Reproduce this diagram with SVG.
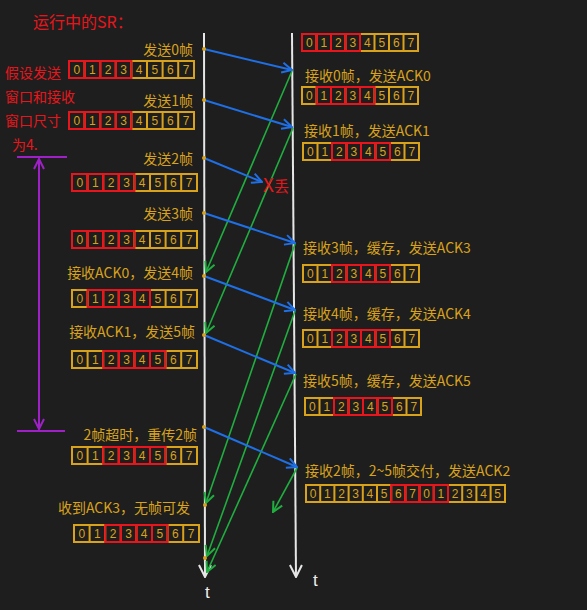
<svg xmlns="http://www.w3.org/2000/svg" xmlns:xlink="http://www.w3.org/1999/xlink" width="587" height="610" viewBox="0 0 587 610">
<style>
.o{fill:none;stroke:#d9a21b;stroke-width:2}
.r{fill:none;stroke:#e8161c;stroke-width:2}
.d{font-family:"Liberation Sans",sans-serif;font-size:12px;fill:#d9a21b;text-anchor:middle}
.l{font-family:"Noto Sans CJK SC",sans-serif;font-size:14px;fill:#d9a21b}
.le{font-family:"Noto Sans CJK SC",sans-serif;font-size:14px;fill:#d9a21b;text-anchor:end}
.rt{font-family:"Noto Sans CJK SC",sans-serif;fill:#e8161c}
.tl{fill:none;stroke:#e6e6e6;stroke-width:2}
.bl{fill:none;stroke:#1f6fe5;stroke-width:2}
.gl{fill:none;stroke:#1fae3f;stroke-width:1.6}
.pl{fill:none;stroke:#a020c8;stroke-width:2}
.dot{fill:#d9a21b}
.tt{font-family:"Liberation Sans",sans-serif;font-size:17px;fill:#eeeeee}
</style>
<defs>
<marker id="ab" viewBox="0 0 12 12" refX="11" refY="6" markerWidth="12" markerHeight="12" markerUnits="userSpaceOnUse" orient="auto"><path d="M1,1 L11,6 L1,11" fill="none" stroke="#1f6fe5" stroke-width="2"/></marker>
<marker id="ag" viewBox="0 0 12 12" refX="11" refY="6" markerWidth="12" markerHeight="12" markerUnits="userSpaceOnUse" orient="auto"><path d="M1,1 L11,6 L1,11" fill="none" stroke="#1fae3f" stroke-width="2"/></marker>
<marker id="aw" viewBox="0 0 14 14" refX="13" refY="7" markerWidth="14" markerHeight="14" markerUnits="userSpaceOnUse" orient="auto"><path d="M1,1 L13,7 L1,13" fill="none" stroke="#e6e6e6" stroke-width="2"/></marker>
<marker id="ap" viewBox="0 0 12 12" refX="11" refY="6" markerWidth="12" markerHeight="12" markerUnits="userSpaceOnUse" orient="auto"><path d="M1,1 L11,6 L1,11" fill="none" stroke="#a020c8" stroke-width="2"/></marker>
<g id="ws">
<rect class="o" x="0" y="0" width="125" height="17"/>
<path class="o" d="M15.6,0V17M31.2,0V17M46.8,0V17M62.4,0V17M78,0V17M93.6,0V17M109.2,0V17"/>
<text class="d" y="13"><tspan x="7.8">0</tspan><tspan x="23.4">1</tspan><tspan x="39">2</tspan><tspan x="54.6">3</tspan><tspan x="70.2">4</tspan><tspan x="85.8">5</tspan><tspan x="101.4">6</tspan><tspan x="117">7</tspan></text>
</g>
<g id="wr">
<rect class="o" x="0" y="0" width="116" height="17"/>
<path class="o" d="M14.5,0V17M29,0V17M43.5,0V17M58,0V17M72.5,0V17M87,0V17M101.5,0V17"/>
<text class="d" y="13"><tspan x="7.25">0</tspan><tspan x="21.75">1</tspan><tspan x="36.25">2</tspan><tspan x="50.75">3</tspan><tspan x="65.25">4</tspan><tspan x="79.75">5</tspan><tspan x="94.25">6</tspan><tspan x="108.75">7</tspan></text>
</g>
<g id="rs"><rect class="r" x="0" y="0" width="15.6" height="17"/><rect class="r" x="15.6" y="0" width="15.6" height="17"/><rect class="r" x="31.2" y="0" width="15.6" height="17"/><rect class="r" x="46.8" y="0" width="15.6" height="17"/></g>
<g id="rr"><rect class="r" x="0" y="0" width="14.5" height="17"/><rect class="r" x="14.5" y="0" width="14.5" height="17"/><rect class="r" x="29" y="0" width="14.5" height="17"/><rect class="r" x="43.5" y="0" width="14.5" height="17"/></g>
</defs>
<rect x="0" y="0" width="587" height="610" fill="#1e1e1e"/>

<g id="title"><text class="rt" x="33" y="28" font-size="16">运行中的SR：</text></g>
<g id="note">
<text class="rt" font-size="14"><tspan x="5" y="78">假设发送</tspan><tspan x="5" y="102">窗口和接收</tspan><tspan x="5" y="126">窗口尺寸</tspan><tspan x="12" y="150">为4.</tspan></text>
</g>
<g id="window-span">
<path class="pl" d="M17,157H67M17,431H65"/>
<path class="pl" d="M39,295V159" marker-end="url(#ap)"/>
<path class="pl" d="M39,295V429" marker-end="url(#ap)"/>
</g>

<g id="connectors">
<path class="tl" d="M204,33L205,577" marker-end="url(#aw)"/>
<path class="tl" d="M292,33L296,577" marker-end="url(#aw)"/>
<path class="gl" d="M292,71L206,272" marker-end="url(#ag)"/>
<path class="gl" d="M293,128L206,333" marker-end="url(#ag)"/>
<path class="gl" d="M295,244L206,503" marker-end="url(#ag)"/>
<path class="gl" d="M295,311L207,556" marker-end="url(#ag)"/>
<path class="gl" d="M296,374L207,572" marker-end="url(#ag)"/>
<path class="gl" d="M297,468L273,512" marker-end="url(#ag)"/>
<path class="bl" d="M204,49L292,70" marker-end="url(#ab)"/>
<path class="bl" d="M204,100L292,127" marker-end="url(#ab)"/>
<path class="bl" d="M204,158L262,182" marker-end="url(#ab)"/>
<path class="bl" d="M204,213L295,243" marker-end="url(#ab)"/>
<path class="bl" d="M204,276L295,310" marker-end="url(#ab)"/>
<path class="bl" d="M204,335L295,373" marker-end="url(#ab)"/>
<path class="bl" d="M204,427L297,467" marker-end="url(#ab)"/>
<circle class="dot" cx="204" cy="49" r="2"/><circle class="dot" cx="204" cy="100" r="2"/><circle class="dot" cx="204" cy="158" r="2"/><circle class="dot" cx="204" cy="213" r="2"/><circle class="dot" cx="204" cy="276" r="2"/><circle class="dot" cx="204" cy="335" r="2"/><circle class="dot" cx="204" cy="427" r="2"/><circle class="dot" cx="205" cy="505" r="2"/><circle class="dot" cx="205" cy="558" r="2"/>
</g>
<g id="lost"><text class="rt" x="263" y="192" font-size="19">X<tspan font-size="15">丢</tspan></text></g>
<text class="tt" x="205" y="598">t</text>
<text class="tt" x="313" y="586">t</text>

<g id="s-send0"><text class="le" x="193" y="55">发送0帧</text><use xlink:href="#ws" x="69" y="61"/><use xlink:href="#rs" x="69" y="61"/></g>
<g id="s-send1"><text class="le" x="193" y="106">发送1帧</text><use xlink:href="#ws" x="69" y="112"/><use xlink:href="#rs" x="69" y="112"/></g>
<g id="s-send2"><text class="le" x="193" y="164">发送2帧</text><use xlink:href="#ws" x="72" y="174"/><use xlink:href="#rs" x="72" y="174"/></g>
<g id="s-send3"><text class="le" x="193" y="219">发送3帧</text><use xlink:href="#ws" x="72" y="231"/><use xlink:href="#rs" x="72" y="231"/></g>
<g id="s-ack0"><text class="le" x="193" y="278">接收ACK0，发送4帧</text><use xlink:href="#ws" x="72" y="290"/><use xlink:href="#rs" x="87.6" y="290"/></g>
<g id="s-ack1"><text class="le" x="195" y="337">接收ACK1，发送5帧</text><use xlink:href="#ws" x="72" y="351"/><use xlink:href="#rs" x="103.2" y="351"/></g>
<g id="s-timeout"><text class="le" x="197" y="440">2帧超时，重传2帧</text><use xlink:href="#ws" x="72" y="447"/><use xlink:href="#rs" x="103.2" y="447"/></g>
<g id="s-ack3"><text class="le" x="190" y="513">收到ACK3，无帧可发</text><use xlink:href="#ws" x="74" y="525"/><use xlink:href="#rs" x="105.2" y="525"/></g>

<g id="r-init"><use xlink:href="#wr" x="302" y="34"/><use xlink:href="#rr" x="302" y="34"/></g>
<g id="r-recv0"><text class="l" x="305" y="81">接收0帧，发送ACK0</text><use xlink:href="#wr" x="302" y="87"/><use xlink:href="#rr" x="316.5" y="87"/></g>
<g id="r-recv1"><text class="l" x="304" y="136">接收1帧，发送ACK1</text><use xlink:href="#wr" x="303" y="143"/><use xlink:href="#rr" x="332" y="143"/></g>
<g id="r-recv3"><text class="l" x="303" y="253">接收3帧，缓存，发送ACK3</text><use xlink:href="#wr" x="303" y="265"/><use xlink:href="#rr" x="332" y="265"/></g>
<g id="r-recv4"><text class="l" x="303" y="319">接收4帧，缓存，发送ACK4</text><use xlink:href="#wr" x="303" y="330"/><use xlink:href="#rr" x="332" y="330"/></g>
<g id="r-recv5"><text class="l" x="303" y="386">接收5帧，缓存，发送ACK5</text><use xlink:href="#wr" x="305" y="398"/><use xlink:href="#rr" x="334" y="398"/></g>
<g id="r-recv2"><text class="l" x="305" y="476">接收2帧，2~5帧交付，发送ACK2</text>
<rect class="o" x="306" y="485" width="199" height="17"/>
<path class="o" d="M320.2,485v17M334.4,485v17M348.6,485v17M362.8,485v17M377,485v17M391.2,485v17M405.4,485v17M419.6,485v17M433.8,485v17M448,485v17M462.2,485v17M476.4,485v17M490.6,485v17"/>
<text class="d" y="498"><tspan x="313.1">0</tspan><tspan x="327.3">1</tspan><tspan x="341.5">2</tspan><tspan x="355.7">3</tspan><tspan x="369.9">4</tspan><tspan x="384.1">5</tspan><tspan x="398.3">6</tspan><tspan x="412.5">7</tspan><tspan x="426.7">0</tspan><tspan x="440.9">1</tspan><tspan x="455.1">2</tspan><tspan x="469.3">3</tspan><tspan x="483.5">4</tspan><tspan x="497.7">5</tspan></text>
<rect class="r" x="391.2" y="485" width="14.2" height="17"/><rect class="r" x="405.4" y="485" width="14.2" height="17"/><rect class="r" x="419.6" y="485" width="14.2" height="17"/><rect class="r" x="433.8" y="485" width="14.2" height="17"/>
</g>
</svg>
